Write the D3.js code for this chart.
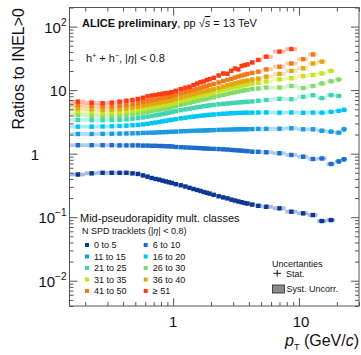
<!DOCTYPE html>
<html>
<head>
<meta charset="utf-8">
<script src="https://cdn.jsdelivr.net/npm/d3@7"></script>
<style>
body { margin: 0; background: #fff; }
svg { display: block; font-family: "Liberation Sans", Arial, sans-serif; }
</style>
</head>
<body>
<div id="chart"></div>
<script>
// pT bin centres (GeV/c)
const ptBins = [0.175, 0.225, 0.275, 0.325, 0.375, 0.425, 0.475, 0.525, 0.575, 0.625, 0.675, 0.725, 0.775, 0.825, 0.875, 0.925, 0.975,
	1.05, 1.15, 1.25, 1.35, 1.45, 1.55, 1.65, 1.75, 1.85, 1.95,
	2.1, 2.3, 2.5, 2.7, 2.9, 3.1, 3.3, 3.5, 3.7, 3.9,
	4.25, 4.75, 5.5, 7, 8.7, 10.8, 12.9, 15.2, 18, 20.7, 22.8];

// ratios to INEL>0, one list per multiplicity class
const ratio0to5 = [0.47, 0.49, 0.50, 0.50, 0.50, 0.50, 0.49, 0.48, 0.455, 0.435, 0.414, 0.40, 0.39, 0.376, 0.365, 0.355, 0.346, 0.331, 0.318, 0.304, 0.290, 0.278, 0.268, 0.259, 0.249, 0.242, 0.235, 0.225, 0.214, 0.205, 0.198, 0.189, 0.183, 0.177, 0.172, 0.167, 0.164, 0.158, 0.151, 0.146, 0.138, 0.122, 0.115, 0.108, 0.087, 0.090];
const ratio6to10 = [1.36, 1.36, 1.36, 1.36, 1.35, 1.35, 1.35, 1.35, 1.34, 1.34, 1.33, 1.33, 1.32, 1.32, 1.31, 1.31, 1.30, 1.275, 1.265, 1.255, 1.245, 1.235, 1.23, 1.22, 1.21, 1.205, 1.195, 1.19, 1.18, 1.17, 1.16, 1.145, 1.135, 1.125, 1.115, 1.105, 1.095, 1.075, 1.07, 1.052, 1.015, 0.954, 0.897, 0.825, 0.84, 0.688, 0.754, 0.816];
const ratio11to15 = [2.04, 2.04, 2.05, 2.06, 2.07, 2.08, 2.09, 2.10, 2.12, 2.13, 2.14, 2.15, 2.17, 2.18, 2.19, 2.20, 2.21, 2.23, 2.25, 2.26, 2.28, 2.29, 2.30, 2.31, 2.32, 2.33, 2.34, 2.35, 2.37, 2.38, 2.39, 2.40, 2.41, 2.42, 2.42, 2.43, 2.43, 2.44, 2.45, 2.46, 2.47, 2.51, 2.42, 2.42, 2.30, 2.22, 2.14, 2.42];
const ratio16to20 = [2.66, 2.66, 2.68, 2.70, 2.73, 2.76, 2.80, 2.84, 2.89, 2.95, 3.02, 3.09, 3.16, 3.23, 3.30, 3.36, 3.42, 3.50, 3.60, 3.68, 3.76, 3.83, 3.89, 3.95, 4.00, 4.05, 4.09, 4.14, 4.20, 4.25, 4.29, 4.32, 4.35, 4.37, 4.39, 4.40, 4.42, 4.43, 4.44, 4.45, 4.42, 4.45, 4.40, 4.43, 4.42, 4.55, 4.72, 4.88];
const ratio21to25 = [3.40, 3.38, 3.37, 3.38, 3.42, 3.48, 3.55, 3.63, 3.72, 3.82, 3.92, 4.02, 4.12, 4.22, 4.32, 4.42, 4.52, 4.66, 4.84, 4.98, 5.12, 5.25, 5.37, 5.48, 5.58, 5.67, 5.75, 5.86, 5.98, 6.08, 6.17, 6.25, 6.33, 6.40, 6.46, 6.52, 6.57, 6.64, 6.80, 7.0, 7.3, 7.2, 7.85, 8.3, 7.5, 8.35, 8.1];
const ratio26to30 = [4.07, 3.95, 3.87, 3.88, 3.95, 4.05, 4.16, 4.28, 4.42, 4.55, 4.69, 4.81, 4.93, 5.04, 5.15, 5.26, 5.36, 5.57, 5.85, 6.08, 6.31, 6.54, 6.76, 6.96, 7.14, 7.32, 7.48, 7.73, 8.07, 8.40, 8.71, 9.00, 9.26, 9.50, 9.75, 9.96, 10.1, 10.4, 10.6, 11.0, 11.0, 11.6, 10.8, 11.6, 12.7, 13.8, 14.7];
const ratio31to35 = [4.58, 4.45, 4.34, 4.36, 4.44, 4.55, 4.69, 4.82, 4.99, 5.15, 5.30, 5.44, 5.57, 5.72, 5.85, 5.97, 6.10, 6.38, 6.69, 6.98, 7.27, 7.54, 7.82, 8.07, 8.31, 8.56, 8.78, 9.10, 9.54, 9.96, 10.4, 10.7, 11.1, 11.4, 11.7, 12.0, 12.3, 12.7, 13.1, 13.7, 14.8, 15.4, 16.6, 17.3, 18.3, 20.1];
const ratio36to40 = [5.19, 5.04, 4.91, 4.93, 5.02, 5.17, 5.32, 5.48, 5.68, 5.87, 6.04, 6.20, 6.36, 6.52, 6.66, 6.81, 6.96, 7.30, 7.65, 7.99, 8.31, 8.62, 8.94, 9.23, 9.50, 9.79, 10.0, 10.4, 10.9, 11.4, 11.9, 12.3, 12.8, 13.2, 13.6, 13.9, 14.2, 14.7, 15.2, 16.3, 18.0, 20.1, 22.1, 26.3, 28.1];
const ratio41to50 = [5.85, 5.68, 5.53, 5.56, 5.68, 5.85, 6.02, 6.22, 6.47, 6.71, 6.93, 7.11, 7.32, 7.51, 7.70, 7.87, 8.05, 8.47, 8.87, 9.30, 9.71, 10.1, 10.5, 10.9, 11.3, 11.6, 12.0, 12.5, 13.2, 13.9, 14.5, 15.1, 15.8, 16.4, 17.0, 17.5, 18.0, 18.7, 19.5, 21.2, 23.4, 26.3, 30.7, 36.5];
const ratioAbove51 = [6.59, 6.36, 6.22, 6.36, 6.59, 6.81, 7.01, 7.27, 7.59, 7.98, 8.22, 8.40, 8.59, 8.78, 8.94, 9.06, 9.27, 9.79, 10.4, 10.9, 11.3, 12.0, 12.7, 13.3, 13.7, 14.4, 14.9, 15.6, 17.0, 18.3, 18.1, 20.2, 21.9, 21.2, 24.0, 24.7, 25.4, 27.3, 29.9, 33.6, 40.4, 44.3];

// relative stat. error per bin (only visible at high pT)
const statRel = [0, 0, 0, 0, 0, 0, 0, 0, 0, 0, 0, 0, 0, 0, 0, 0, 0, 0, 0, 0, 0, 0, 0, 0, 0, 0, 0, 0, 0, 0, 0, 0, 0, 0, 0, 0, 0, 0, 0, 0, 0, 0, 0.02, 0.03, 0.04, 0.05, 0.07, 0.09];
const systRel = 0.07;

const classNames = ['0 to 5', '6 to 10', '11 to 15', '16 to 20', '21 to 25', '26 to 30', '31 to 35', '36 to 40', '41 to 50', '≥ 51'];
const classColors = ['#0b3896', '#1c6ccc', '#1b9ae0', '#00c6f6', '#3ed6b2', '#84da6a', '#c8e220', '#e2a614', '#f4781a', '#ff3a14'];
const allRatios = [ratio0to5, ratio6to10, ratio11to15, ratio16to20, ratio21to25, ratio26to30, ratio31to35, ratio36to40, ratio41to50, ratioAbove51];

const yTickVals = [100, 10, 1, 0.1, 0.01];
const yTickBase = ['10', '10', '1', '10', '10'];
const yTickExp = ['2', '', '', '−1', '−2'];
const xTickVals = [1, 10];

// dimension stuff
const width = 361;
const height = 355;
const frameLeft = 69.5, frameRight = 359, frameTop = 7.5, frameBottom = 306;

const x = d3.scaleLog().domain([0.15, 30]).range([frameLeft, frameRight]);
const y = d3.scaleLog().domain([0.004, 200]).range([frameBottom, frameTop]);

const svg = d3.select('#chart').append('svg')
	.attr('width', width)
	.attr('height', height);

// bin edges from neighbouring centres
const edges = ptBins.map((p, i) => {
	const lo = i === 0 ? 0.15 : Math.sqrt(ptBins[i - 1] * p);
	const hi = i === ptBins.length - 1 ? p * p / Math.sqrt(ptBins[i - 1] * p) : Math.sqrt(ptBins[i + 1] * p);
	return [lo, hi];
});

const series = allRatios.map((vals, k) => ({
	name: classNames[k],
	color: classColors[k],
	points: vals.map((v, i) => ({ pt: ptBins[i], v, lo: edges[i][0], hi: edges[i][1], stat: statRel[i] }))
}));

const $plot = svg.append('g').attr('class', 'g-vis');

// syst. boxes first, all classes
$plot.selectAll('g.syst')
	.data(series)
	.join('g')
	.attr('class', 'syst')
	.attr('fill', d => d.color)
	.attr('fill-opacity', 0.35)
	.selectAll('rect')
	.data(d => d.points)
	.join('rect')
	.attr('x', d => x(d.lo))
	.attr('width', d => x(d.hi) - x(d.lo))
	.attr('y', d => y(d.v * (1 + systRel)))
	.attr('height', d => y(d.v / (1 + systRel)) - y(d.v * (1 + systRel)));

// stat. bars
$plot.selectAll('g.stat')
	.data(series)
	.join('g')
	.attr('class', 'stat')
	.attr('stroke', d => d.color)
	.attr('stroke-width', 1.3)
	.each(function(s) {
		const pts = s.points.filter(p => p.stat > 0);
		d3.select(this).selectAll('line.v')
			.data(pts)
			.join('line')
			.attr('class', 'v')
			.attr('x1', d => x(d.pt)).attr('x2', d => x(d.pt))
			.attr('y1', d => y(d.v * (1 + d.stat))).attr('y2', d => y(d.v / (1 + d.stat)));
		d3.select(this).selectAll('line.h')
			.data(pts.filter(p => p.stat >= 0.04))
			.join('line')
			.attr('class', 'h')
			.attr('x1', d => x(d.pt) - 3).attr('x2', d => x(d.pt) + 3)
			.attr('y1', d => y(d.v)).attr('y2', d => y(d.v));
	});

// markers
const ms = 4.4;
$plot.selectAll('g.marks')
	.data(series)
	.join('g')
	.attr('class', 'marks')
	.attr('fill', d => d.color)
	.selectAll('rect')
	.data(d => d.points)
	.join('rect')
	.attr('x', d => x(d.pt) - ms / 2)
	.attr('y', d => y(d.v) - ms / 2)
	.attr('width', ms)
	.attr('height', ms);

// axes: ticks inward on all four sides
const $axis = svg.append('g').attr('class', 'g-axis').attr('color', '#555');
const isDecade = t => Math.abs(Math.log10(t) - Math.round(Math.log10(t))) < 1e-6;
const xMinor = x.ticks().filter(t => !isDecade(t));
const xMajor = x.ticks().filter(isDecade);
const yMinor = y.ticks().filter(t => !isDecade(t));
const yMajor = y.ticks().filter(isDecade);

function ticks(axisFn, scale, vals, len, transform) {
	$axis.append('g')
		.attr('transform', transform)
		.call(axisFn(scale).tickValues(vals).tickSize(-len).tickFormat(''))
		.call(g => g.select('.domain').remove());
}
ticks(d3.axisBottom, x, xMinor, 4, `translate(0,${frameBottom})`);
ticks(d3.axisBottom, x, xMajor, 8, `translate(0,${frameBottom})`);
ticks(d3.axisTop, x, xMinor, 4, `translate(0,${frameTop})`);
ticks(d3.axisTop, x, xMajor, 8, `translate(0,${frameTop})`);
ticks(d3.axisLeft, y, yMinor, 4, `translate(${frameLeft},0)`);
ticks(d3.axisLeft, y, yMajor, 8, `translate(${frameLeft},0)`);
ticks(d3.axisRight, y, yMinor, 4, `translate(${frameRight},0)`);
ticks(d3.axisRight, y, yMajor, 8, `translate(${frameRight},0)`);

svg.append('rect')
	.attr('x', frameLeft).attr('y', frameTop)
	.attr('width', frameRight - frameLeft).attr('height', frameBottom - frameTop)
	.attr('fill', 'none').attr('stroke', '#555').attr('stroke-width', 1);

// tick labels
const $yl = svg.append('g').attr('font-size', 15).attr('fill', '#111');
yTickVals.forEach((v, i) => {
	const t = $yl.append('text')
		.attr('x', yTickBase[i] === '1' && !yTickExp[i] ? 39 : 66.5)
		.attr('y', y(v) + 6)
		.attr('text-anchor', 'end');
	t.append('tspan').text(yTickBase[i]);
	if (yTickExp[i]) t.append('tspan').attr('dy', -7).attr('font-size', 10).text(yTickExp[i]);
});

svg.append('g').attr('font-size', 15).attr('fill', '#111')
	.selectAll('text')
	.data(xTickVals)
	.join('text')
	.attr('x', d => x(d) + (d >= 10 ? 2 : 0))
	.attr('y', 327)
	.attr('text-anchor', 'middle')
	.text(d => d);

// axis titles
svg.append('text')
	.attr('transform', 'translate(23.5,8) rotate(-90)')
	.attr('text-anchor', 'end')
	.attr('font-size', 16)
	.attr('fill', '#111')
	.text('Ratios to INEL>0');

const xt = svg.append('text')
	.attr('x', 359).attr('y', 346)
	.attr('text-anchor', 'end')
	.attr('font-size', 16)
	.attr('fill', '#111');
xt.append('tspan').attr('font-style', 'italic').text('p');
xt.append('tspan').attr('font-size', 9).attr('dy', 4).text('T');
xt.append('tspan').attr('dy', -4).text(' (GeV/');
xt.append('tspan').attr('font-style', 'italic').text('c');
xt.append('tspan').text(')');

// headline
const h1 = svg.append('text').attr('x', 82).attr('y', 27).attr('font-size', 11).attr('fill', '#111');
h1.append('tspan').attr('font-weight', 'bold').text('ALICE preliminary');
h1.append('tspan').text(', pp ');
h1.append('tspan').text('√');
h1.append('tspan').attr('font-style', 'italic').attr('text-decoration', 'overline').text('s');
h1.append('tspan').text(' = 13 TeV');

const h2 = svg.append('text').attr('x', 86).attr('y', 62).attr('font-size', 11).attr('fill', '#111');
h2.append('tspan').text('h');
h2.append('tspan').attr('dy', -4).attr('font-size', 7).text('+');
h2.append('tspan').attr('dy', 4).text(' + h');
h2.append('tspan').attr('dy', -4).attr('font-size', 7).text('−');
h2.append('tspan').attr('dy', 4).text(', |');
h2.append('tspan').attr('font-style', 'italic').text('η');
h2.append('tspan').text('| < 0.8');

// class legend
svg.append('text').attr('x', 80).attr('y', 222).attr('font-size', 11).attr('fill', '#111')
	.text('Mid-pseudorapidity mult. classes');
const st = svg.append('text').attr('x', 82).attr('y', 234).attr('font-size', 9).attr('fill', '#111');
st.append('tspan').text('N SPD tracklets (|');
st.append('tspan').attr('font-style', 'italic').text('η');
st.append('tspan').text('| < 0.8)');

const $leg = svg.append('g').attr('font-size', 9).attr('fill', '#111')
	.selectAll('g')
	.data(series)
	.join('g')
	.attr('transform', (d, i) => `translate(${i % 2 ? 145.7 : 87},${245 + Math.floor(i / 2) * 11.5})`);
$leg.append('rect')
	.attr('x', -2).attr('y', -2).attr('width', 4).attr('height', 4)
	.attr('fill', d => d.color);
$leg.append('text')
	.attr('x', 7).attr('y', 3.3)
	.text(d => d.name);

// uncertainty legend
const $unc = svg.append('g').attr('font-size', 9).attr('fill', '#111');
$unc.append('text').attr('x', 272).attr('y', 266.5).text('Uncertanties');
$unc.append('line').attr('x1', 273.5).attr('x2', 281).attr('y1', 273.3).attr('y2', 273.3).attr('stroke', '#111');
$unc.append('line').attr('x1', 277.2).attr('x2', 277.2).attr('y1', 270).attr('y2', 276.6).attr('stroke', '#111');
$unc.append('text').attr('x', 286).attr('y', 276.5).text('Stat.');
$unc.append('rect').attr('x', 272.5).attr('y', 285).attr('width', 12).attr('height', 8)
	.attr('fill', '#8a8a8a').attr('stroke', '#222').attr('stroke-width', 0.8);
$unc.append('text').attr('x', 286.5).attr('y', 292).text('Syst. Uncorr.');
</script>
</body>
</html>
